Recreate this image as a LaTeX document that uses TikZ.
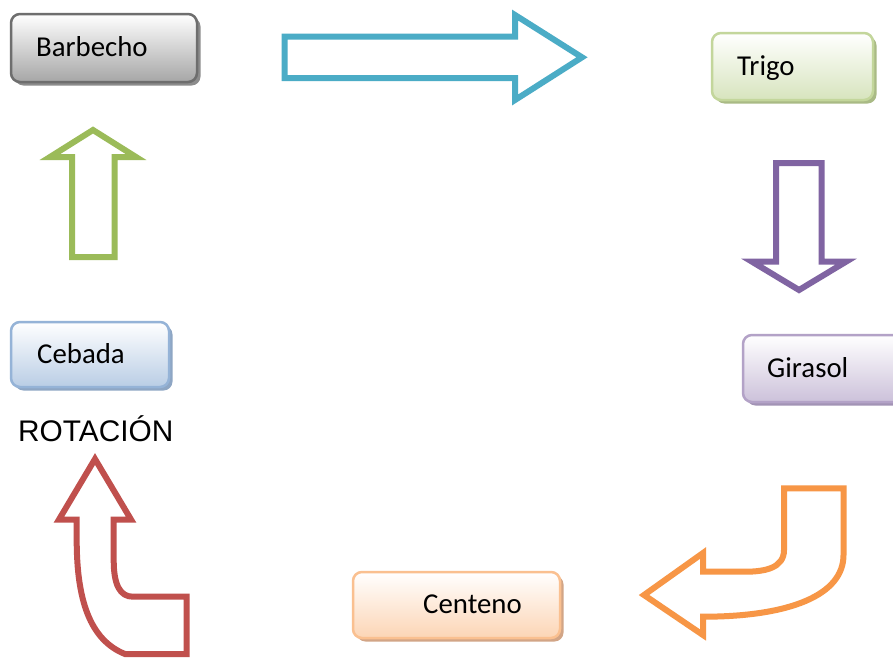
\documentclass[tikz,border=0pt]{standalone}
\usepackage{fontspec}
\setmainfont{Carlito}
\newfontfamily\rotfont{Liberation Sans}
\usetikzlibrary{shadows}
\definecolor{grayB}{HTML}{6E6E6E}
\definecolor{grayF}{HTML}{A6A6A6}
\definecolor{grayS}{HTML}{8C8C8C}
\definecolor{greenB}{HTML}{C3D69B}
\definecolor{greenF}{HTML}{D7E4BD}
\definecolor{greenS}{HTML}{A9BA85}
\definecolor{purpB}{HTML}{B3A2C7}
\definecolor{purpF}{HTML}{CCC1DA}
\definecolor{purpS}{HTML}{A293B5}
\definecolor{orB}{HTML}{FAC090}
\definecolor{orF}{HTML}{FCD5B5}
\definecolor{orS}{HTML}{D2A586}
\definecolor{blB}{HTML}{95B3D7}
\definecolor{blF}{HTML}{B9CDE5}
\definecolor{blS}{HTML}{8EA6C4}
\definecolor{arBlue}{HTML}{4BACC6}
\definecolor{arPurple}{HTML}{8064A2}
\definecolor{arGreen}{HTML}{9BBB59}
\definecolor{arOrange}{HTML}{F79646}
\definecolor{arRed}{HTML}{C0504D}
\tikzset{
  boxstyle/.style n args={3}{draw=#1, line width=2.5pt, rounded corners=9pt,
     top color=white, bottom color=#2, inner sep=0pt,
     drop shadow={shadow xshift=3.5pt, shadow yshift=-3.5pt, fill=#3, opacity=1}},
  lbl/.style={anchor=base west, inner sep=0pt, font=\fontsize{28.8}{30}\selectfont, text=black},
  blockarrow/.style={draw=#1, line width=6pt, fill=white, line join=miter}
}
\begin{document}
\begin{tikzpicture}[x=1pt,y=-1pt]
\clip (0,0) rectangle (893,659);
\fill[white] (0,0) rectangle (893,659);
% boxes
\node[boxstyle={grayB}{grayF}{grayS}, minimum width=186pt, minimum height=68pt] (barbecho) at (104,48) {};
\node[lbl] (barbechoT) at (36,56) {Barbecho};
\node[boxstyle={greenB}{greenF}{greenS}, minimum width=161pt, minimum height=67pt] (trigo) at (792.5,66.5) {};
\node[lbl] (trigoT) at (737,75) {Trigo};
\node[boxstyle={purpB}{purpF}{purpS}, minimum width=162pt, minimum height=67pt] (girasol) at (824,368.5) {};
\node[lbl] (girasolT) at (767,377) {Girasol};
\node[boxstyle={orB}{orF}{orS}, minimum width=207pt, minimum height=66pt] (centeno) at (456.5,605) {};
\node[lbl] (centenoT) at (423,613) {Centeno};
\node[boxstyle={blB}{blF}{blS}, minimum width=158pt, minimum height=65pt] (cebada) at (90,354.5) {};
\node[lbl] (cebadaT) at (37,363) {Cebada};
\node[anchor=base west, inner sep=0pt, font=\rotfont\fontsize{29.8}{31}\selectfont] (rot) at (18,441.5) {ROTACIÓN};
% blue right arrow
\draw[blockarrow=arBlue] (284.5,36.5) -- (515,36.5) -- (515,15) -- (582,57.3) -- (515,100) -- (515,78) -- (284.5,78) -- cycle;
% purple down arrow
\draw[blockarrow=arPurple] (776,163) -- (821.7,163) -- (821.7,261.7) -- (846,261.7) -- (799,290) -- (752,261.7) -- (776,261.7) -- cycle;
% green up arrow
\draw[blockarrow=arGreen] (72,257) -- (72,157) -- (50,157) -- (93,130) -- (136,157) -- (114.5,157) -- (114.5,257) -- cycle;
% orange curved arrow
\draw[blockarrow=arOrange] (784,488.3) -- (843.5,488.3) -- (843.5,555)
   .. controls (843.5,595) and (790,616.7) .. (703,616.7)
   -- (703,635) -- (644,595) -- (703,553) -- (703,571.7) -- (745,571.7)
   .. controls (765,571.7) and (784,568) .. (784,550) -- cycle;
% red curved arrow
\draw[blockarrow=arRed] (95,459) -- (131,519.5) -- (113.7,519.5) -- (113.7,560)
   .. controls (113.7,585) and (120,596.7) .. (133,596.7)
   -- (186.7,596.7) -- (186.7,654) -- (125,654)
   .. controls (90,640) and (76.7,600) .. (76.7,540)
   -- (76.7,519.5) -- (59,519.5) -- cycle;
\end{tikzpicture}
\end{document}
